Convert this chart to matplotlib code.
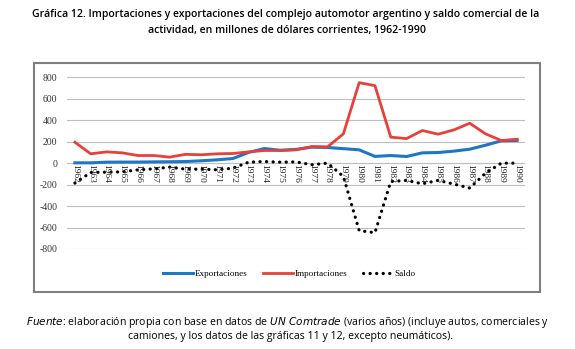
import matplotlib
matplotlib.use("Agg")
import matplotlib.pyplot as plt
from matplotlib.patches import Rectangle
import numpy as np

years = [str(y) for y in range(1962, 1991)]
exportaciones = [3, 3, 9, 10, 10, 12, 13, 15, 22, 31, 43, 100, 136, 120, 128, 149, 146, 135, 124, 63, 71, 62, 96, 99, 112, 130, 167, 208, 211]
importaciones = [195, 87, 105, 96, 71, 71, 56, 82, 78, 87, 90, 105, 118, 118, 124, 155, 152, 273, 750, 722, 242, 229, 304, 270, 310, 372, 273, 211, 223]
saldo = [-186, -87, -84, -81, -62, -53, -37, -56, -56, -62, -47, 9, 15, 9, 12, -15, 0, -124, -629, -648, -171, -161, -192, -161, -195, -232, -93, 0, 0]
yticks = [800, 600, 400, 200, 0, -200, -400, -600, -800]

W, H = 575, 349
fig = plt.figure(figsize=(W / 100, H / 100), dpi=100)

serif = "Liberation Serif"
sans = "Open Sans"

# outer frame
fig.patches.append(Rectangle((34 / W, 1 - 292 / H), (540 - 34) / W, (292 - 63) / H,
                             transform=fig.transFigure, fill=False,
                             edgecolor="#7f7f7f", linewidth=1.5))

ax = fig.add_axes([67 / W, 1 - 249 / H, (525 - 67) / W, (249 - 77.3) / H])
x = np.arange(len(years))
ax.set_xlim(-0.5, len(years) - 0.5)
ax.set_ylim(-800, 800)
ax.set_yticks(yticks)
ax.set_yticklabels([str(v) for v in yticks], fontfamily=serif, fontsize=7, color="#333333")
ax.tick_params(axis="y", length=0, pad=7)
ax.set_xticks([])
for s in ax.spines.values():
    s.set_visible(False)
ax.grid(axis="y", color="#bfbfbf", linewidth=0.8)
ax.set_axisbelow(True)
ax.axhline(0, color="#bfbfbf", linewidth=0.8, zorder=0)

l1, = ax.plot(x, exportaciones, color="#1f77c4", linewidth=2.2, label="Exportaciones", clip_on=False)
l2, = ax.plot(x, importaciones, color="#e8403a", linewidth=2.0, label="Importaciones", clip_on=False)
l3, = ax.plot(x, saldo, color="black", linewidth=2.3, linestyle=(0, (0.05, 2.0)),
              dash_capstyle="round", label="Saldo", clip_on=False)

for xi, yl in zip(x, years):
    ax.text(xi, -8, yl, rotation=270, ha="center", va="top", fontfamily=serif,
            fontsize=6.8, color="#222222")

leg = fig.legend(handles=[l1, l2, l3], loc="center", bbox_to_anchor=(289 / W, 1 - 274 / H),
                 ncol=3, frameon=False, prop={"family": serif, "size": 6.6},
                 handlelength=3.3, columnspacing=1.7, handletextpad=0.15)

fig.text(286 / W, 1 - 15 / H,
         "Gráfica 12. Importaciones y exportaciones del complejo automotor argentino y saldo comercial de la",
         ha="center", va="center", fontfamily=sans, fontweight="semibold", fontsize=7.6)
fig.text(287 / W, 1 - 30 / H, "actividad, en millones de dólares corrientes, 1962-1990",
         ha="center", va="center", fontfamily=sans, fontweight="semibold", fontsize=7.6)

fig.text(288 / W, 1 - 323 / H,
         r"$\it{Fuente}$: elaboración propia con base en datos de $\it{UN\ Comtrade}$ (varios años) (incluye autos, comerciales y",
         ha="center", va="center", fontfamily=sans, fontsize=7.6)
fig.text(290 / W, 1 - 337 / H,
         "camiones, y los datos de las gráficas 11 y 12, excepto neumáticos).",
         ha="center", va="center", fontfamily=sans, fontsize=7.6)

fig.savefig("out.png", dpi=100)
